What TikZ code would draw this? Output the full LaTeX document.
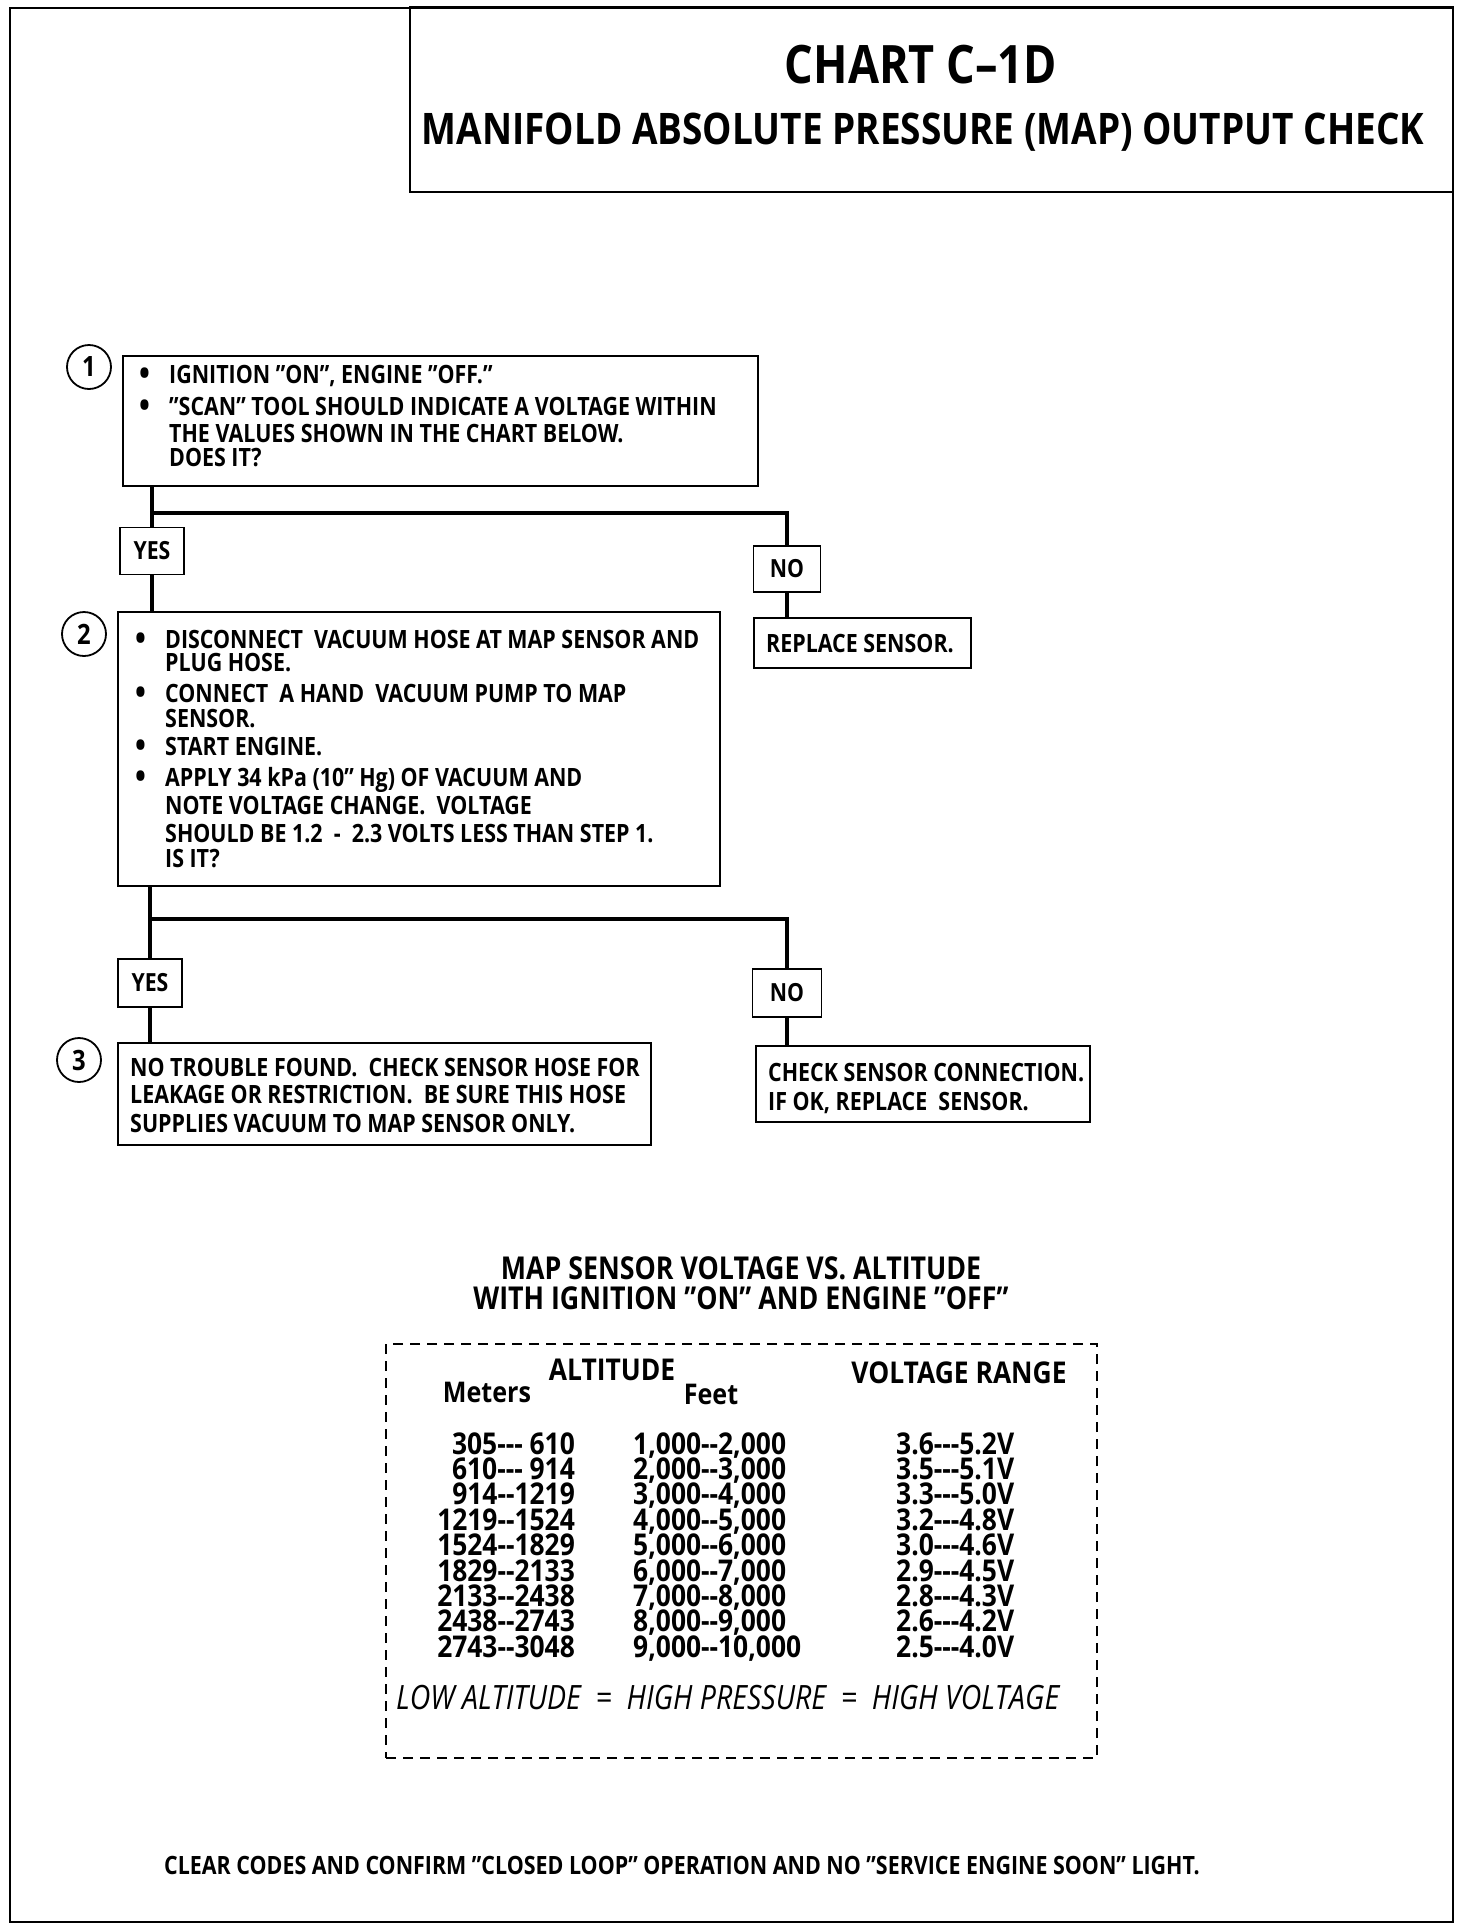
\documentclass[tikz,border=0pt]{standalone}
\usepackage{fontspec}
\setmainfont{Open Sans}[FakeStretch=0.85]
\newfontfamily\tabfont{Open Sans}[FakeStretch=0.88]
\newcommand\bul[1]{\llap{\makebox[#1][l]{\raisebox{-2pt}{\fontsize{34}{34}\selectfont\textbullet}}}}
\begin{document}
\begin{tikzpicture}[x=1pt,y=-1pt,
  frame/.style={draw,line width=2.6pt},
  box/.style={draw,line width=1.8pt,inner sep=0pt,rectangle},
  conn/.style={line width=4.6pt},
  lbl/.style={box,font=\bfseries\fontsize{25}{28}\selectfont},
  num/.style={draw,circle,line width=1.8pt,minimum size=44pt,inner sep=0pt,font=\bfseries\fontsize{28}{28}\selectfont},
  txt/.style={anchor=base west,inner sep=0pt,text height=18pt,text depth=3pt,font=\bfseries\fontsize{25.2}{28}\selectfont},
  tab/.style={inner sep=0pt,text height=21.5pt,text depth=2pt,font=\tabfont\bfseries\fontsize{30}{32}\selectfont},
]
\useasboundingbox (0,0) rectangle (1472,1930);
\fill[white] (0,0) rectangle (1472,1930);
% outer frame and title box
\node[frame,minimum width=1443pt,minimum height=1914pt,inner sep=0pt] (outer) at (731.5,965) {};
\node[frame,minimum width=1043pt,minimum height=185pt,inner sep=0pt] (title) at (931.5,99.5) {};
\node[anchor=base,inner sep=0pt,font=\bfseries\fontsize{53}{56}\selectfont] (t1) at (921,83) {CHART C--1D};
\node[anchor=base,inner sep=0pt,font=\bfseries\fontsize{43.5}{46}\selectfont] (t2) at (923,144) {MANIFOLD ABSOLUTE PRESSURE (MAP) OUTPUT CHECK};

% step 1
\node[num] (n1) at (89,367) {1};
\node[box,minimum width=635pt,minimum height=130pt] (b1) at (440.5,421) {};
\node[txt] (b1a) at (169,383) {\bul{30pt}IGNITION "ON", ENGINE "OFF."};
\node[txt] (b1b) at (169,415) {\bul{30pt}"SCAN" TOOL SHOULD INDICATE A VOLTAGE WITHIN};
\node[txt] (b1c) at (169,442) {THE VALUES SHOWN IN THE CHART BELOW.};
\node[txt] (b1d) at (169,466) {DOES IT?};

\node[lbl,minimum width=64pt,minimum height=47pt] (yes1) at (152,551) {YES};
\node[lbl,minimum width=67pt,minimum height=46pt] (no1) at (787,569) {NO};
\node[box,minimum width=217pt,minimum height=50pt] (rep) at (862.5,643) {};
\node[txt] (rept) at (766,652) {REPLACE SENSOR.};
\coordinate (j1) at (152,513);
\draw[conn] (b1.south -| yes1.north) -- (yes1.north);
\draw[conn] (j1) -| (no1.north);
\draw[conn] (no1.south) -- (rep.north -| no1.south);

% step 2
\node[num] (n2) at (84,634) {2};
\node[box,minimum width=602pt,minimum height=274pt] (b2) at (419,749) {};
\node[txt] (b2a) at (165,648) {\bul{30pt}DISCONNECT\ \ VACUUM HOSE AT MAP SENSOR AND};
\node[txt] (b2b) at (165,671) {PLUG HOSE.};
\node[txt] (b2c) at (165,702) {\bul{30pt}CONNECT\ \ A HAND\ \ VACUUM PUMP TO MAP};
\node[txt] (b2d) at (165,727) {SENSOR.};
\node[txt] (b2e) at (165,755) {\bul{30pt}START ENGINE.};
\node[txt] (b2f) at (165,786) {\bul{30pt}APPLY 34 kPa (10" Hg) OF VACUUM AND};
\node[txt] (b2g) at (165,814) {NOTE VOLTAGE CHANGE.\ \ VOLTAGE};
\node[txt] (b2h) at (165,842) {SHOULD BE 1.2\ \ -\ \ 2.3 VOLTS LESS THAN STEP 1.};
\node[txt] (b2i) at (165,867) {IS IT?};
\draw[conn] (yes1.south) -- (b2.north -| yes1.south);

\node[lbl,minimum width=64pt,minimum height=48pt] (yes2) at (150,983) {YES};
\node[lbl,minimum width=69pt,minimum height=48pt] (no2) at (787,993) {NO};
\node[box,minimum width=334pt,minimum height=76pt] (chk) at (923,1084) {};
\node[txt] (chka) at (768,1081) {CHECK SENSOR CONNECTION.};
\node[txt] (chkb) at (768,1110) {IF OK, REPLACE\ \ SENSOR.};
\coordinate (j2) at (150,919);
\draw[conn] (b2.south -| yes2.north) -- (yes2.north);
\draw[conn] (j2) -| (no2.north);
\draw[conn] (no2.south) -- (chk.north -| no2.south);

% step 3
\node[num] (n3) at (79,1060) {3};
\node[box,minimum width=533pt,minimum height=102pt] (b3) at (384.5,1094) {};
\node[txt] (b3a) at (130,1076) {NO TROUBLE FOUND.\ \ CHECK SENSOR HOSE FOR};
\node[txt] (b3b) at (130,1103) {LEAKAGE OR RESTRICTION.\ \ BE SURE THIS HOSE};
\node[txt] (b3c) at (130,1132) {SUPPLIES VACUUM TO MAP SENSOR ONLY.};
\draw[conn] (yes2.south) -- (b3.north -| yes2.south);

% table
\node[anchor=base,inner sep=0pt,font=\bfseries\fontsize{31.5}{34}\selectfont] (tt1) at (741,1279) {MAP SENSOR VOLTAGE VS. ALTITUDE};
\node[anchor=base,inner sep=0pt,font=\bfseries\fontsize{31.5}{34}\selectfont] (tt2) at (741,1309) {WITH IGNITION "ON" AND ENGINE "OFF"};
\node[draw,line width=1.8pt,dash pattern=on 10pt off 7pt,minimum width=711pt,minimum height=414pt,inner sep=0pt] (tbl) at (741.5,1551) {};
\node[tab,anchor=base] (hAlt) at (612,1380) {ALTITUDE};
\node[tab,anchor=base] (hVol) at (959,1383) {VOLTAGE RANGE};
\node[tab,anchor=base,font=\tabfont\bfseries\fontsize{28.5}{32}\selectfont,text height=20pt,text depth=0pt] (hMet) at (487,1402) {Meters};
\node[tab,anchor=base,font=\tabfont\bfseries\fontsize{28.5}{32}\selectfont,text height=20pt,text depth=0pt] (hFt) at (711,1404) {Feet};
\foreach \m/\f/\v [count=\i] in {305--- 610/{1,000--2,000}/3.6---5.2V,610--- 914/{2,000--3,000}/3.5---5.1V,914--1219/{3,000--4,000}/3.3---5.0V,1219--1524/{4,000--5,000}/3.2---4.8V,1524--1829/{5,000--6,000}/3.0---4.6V,1829--2133/{6,000--7,000}/2.9---4.5V,2133--2438/{7,000--8,000}/2.8---4.3V,2438--2743/{8,000--9,000}/2.6---4.2V,2743--3048/{9,000--10,000}/2.5---4.0V}{
  \node[tab,anchor=base east] (m\i) at (575,1454+25.4*\i-25.4) {\addfontfeatures{Mapping=}\m};
  \node[tab,anchor=base west] (f\i) at (633,1454+25.4*\i-25.4) {\addfontfeatures{Mapping=}\f};
  \node[tab,anchor=base west] (v\i) at (896,1454+25.4*\i-25.4) {\addfontfeatures{Mapping=}\v};
}
\node[anchor=base west,inner sep=0pt,font=\itshape\fontsize{33.5}{36}\selectfont] (low) at (396,1709) {LOW ALTITUDE\ \ =\ \ HIGH PRESSURE\ \ =\ \ HIGH VOLTAGE};

% bottom
\node[txt] (bot) at (164,1874) {CLEAR CODES AND CONFIRM "CLOSED LOOP" OPERATION AND NO "SERVICE ENGINE SOON" LIGHT.};
\end{tikzpicture}
\end{document}
